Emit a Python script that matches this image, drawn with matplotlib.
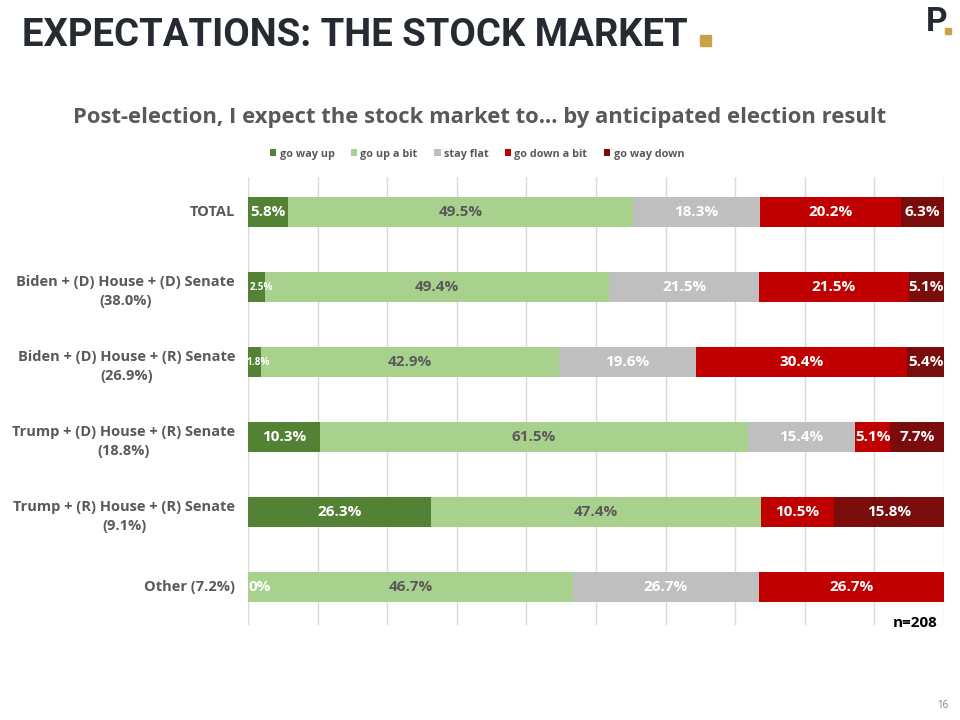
import matplotlib
matplotlib.use("Agg")
import matplotlib.pyplot as plt
import matplotlib.transforms as mtransforms
from matplotlib.patches import Rectangle

categories = [
    "TOTAL",
    "Biden + (D) House + (D) Senate\n(38.0%)",
    "Biden + (D) House + (R) Senate\n(26.9%)",
    "Trump + (D) House + (R) Senate\n(18.8%)",
    "Trump + (R) House + (R) Senate\n(9.1%)",
    "Other (7.2%)",
]
series_names = ["go way up", "go up a bit", "stay flat", "go down a bit", "go way down"]
go_way_up = [5.8, 2.5, 1.8, 10.3, 26.3, 0.0]
go_up_a_bit = [49.5, 49.4, 42.9, 61.5, 47.4, 46.7]
stay_flat = [18.3, 21.5, 19.6, 15.4, 0.0, 26.7]
go_down_a_bit = [20.2, 21.5, 30.4, 5.1, 10.5, 26.7]
go_way_down = [6.3, 5.1, 5.4, 7.7, 15.8, 0.0]

colors = ["#548235", "#A9D18E", "#BFBFBF", "#C00000", "#7B0C0C"]
label_colors = ["white", "#595959", "white", "white", "white"]

FONT = ["Open Sans", "DejaVu Sans"]
plt.rcParams["font.family"] = FONT

fig = plt.figure(figsize=(9.6, 7.2), dpi=100)
ax = fig.add_axes([248 / 960, 1 - 625 / 720, 696 / 960, 448 / 720])

all_series = [go_way_up, go_up_a_bit, stay_flat, go_down_a_bit, go_way_down]
ypos = list(range(len(categories)))
left = [0.0] * len(categories)
for s_idx, (vals, name) in enumerate(zip(all_series, series_names)):
    ax.barh(ypos, vals, left=left, height=0.4, color=colors[s_idx], label=name, zorder=2)
    for i, v in enumerate(vals):
        cx = left[i] + v / 2
        if v > 0:
            small = v < 3
            ax.text(cx + (0.6 if small else 0), i, f"{v:.1f}%", ha="center", va="center",
                    color=label_colors[s_idx], fontsize=7.2 if small else 11,
                    fontweight="bold", zorder=3, clip_on=True)
        elif s_idx == 0:
            # zero-width segment: label sits on the axis edge
            ax.text(left[i], i, "0%", ha="left", va="center",
                    color=label_colors[s_idx], fontsize=11,
                    fontweight="bold", zorder=3, clip_on=True)
        left[i] += v

ax.set_xlim(0, 100)
ax.set_ylim(5.5, -0.47)
for x in range(0, 101, 10):
    ax.axvline(x, color="#D9D9D9", lw=1, zorder=1)
for sp in ax.spines.values():
    sp.set_visible(False)
ax.set_xticks([])
ax.set_yticks([])

trans = mtransforms.blended_transform_factory(ax.transAxes, ax.transData)
for i, c in enumerate(categories):
    ax.text(-13 / 696, i + (0.05 if "\n" in c else 0), c, transform=trans,
            ha="right", va="center", multialignment="center", fontsize=10.5,
            fontweight="bold", color="#595959", linespacing=1.45)

# n label
ax.text(99, 5.47, "n=208", ha="right", va="center", fontsize=11,
        fontweight="bold", color="black", zorder=4,
        bbox=dict(facecolor="white", edgecolor="none", pad=1))

# legend
handles, labels = ax.get_legend_handles_labels()
fig.legend(handles, labels, loc="center", bbox_to_anchor=(477 / 960, 1 - 154 / 720),
           ncol=5, frameon=False, handlelength=0.6, handleheight=0.6,
           handletextpad=0.3, columnspacing=1.5, labelcolor="#595959",
           prop={"family": FONT, "weight": "bold", "size": 7.8})

# Title
fig.text(22 / 960, 1 - 35 / 720, "EXPECTATIONS: THE STOCK MARKET", ha="left",
         va="center", fontsize=27.5, fontweight="bold", color="#262A33",
         family=["Roboto", "DejaVu Sans"])
fig.patches.append(Rectangle((700 / 960, 1 - 46 / 720), 11 / 960, 11 / 720,
                             transform=fig.transFigure, color="#C9A246"))
# logo
fig.text(926 / 960, 1 - 22 / 720, "P", ha="left", va="center", fontsize=24,
         fontweight="bold", color="#262A33", family=["Roboto", "DejaVu Sans"])
fig.patches.append(Rectangle((945 / 960, 1 - 34 / 720), 6 / 960, 6 / 720,
                             transform=fig.transFigure, color="#C9A246"))

# subtitle
fig.text(480 / 960, 1 - 118 / 720,
         "Post-election, I expect the stock market to... by anticipated election result",
         ha="center", va="center", fontsize=15.8, fontweight="bold", color="#595959")

# page number
fig.text(948 / 960, 1 - 705 / 720, "16", ha="right", va="center", fontsize=7,
         color="#7F7F7F")

fig.savefig("out.png", dpi=100, facecolor="white")
